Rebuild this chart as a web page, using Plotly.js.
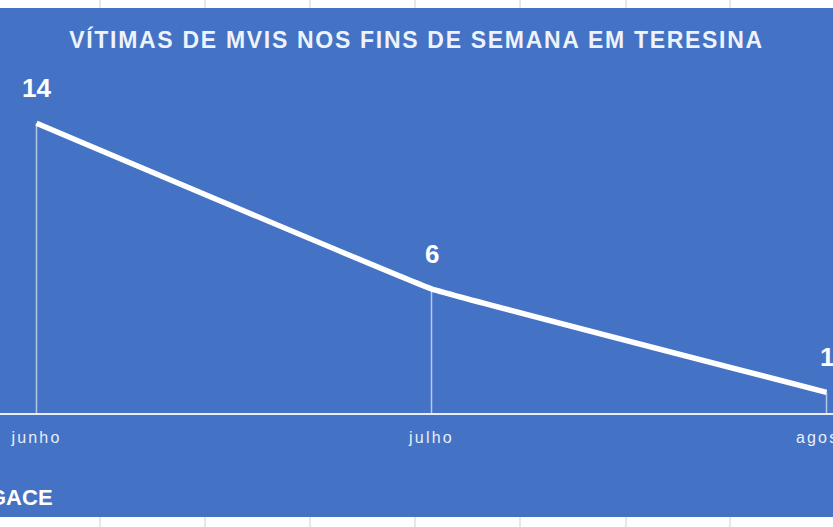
<!DOCTYPE html>
<html>
<head>
<meta charset="utf-8">
<script src="https://cdn.plot.ly/plotly-3.0.1.min.js"></script>
<style>
  html, body { margin: 0; padding: 0; background: #ffffff; }
  #chart { width: 833px; height: 527px; }
  .xtick text { letter-spacing: 2.2px; }
  .gtitle { letter-spacing: 1.7px; }
</style>
</head>
<body>
<div id="chart"></div>
<script>
// ---- data ----
const months = ['junho', 'julho', 'agosto'];
const victims = [14, 6, 1];
const chartTitle = 'VÍTIMAS DE MVIS NOS FINS DE SEMANA EM TERESINA';
const sourceLabel = 'GACE';

// ---- style ----
const BLUE = '#4472c4';
const W = 833, H = 527;
const T = 80, B = 413;               // plot area top / bottom in pixels
const PH = B - T;
const py = p => (B - p) / PH;         // pixel row -> paper y
const px = p => p / W;                // pixel col -> paper x
const blueTop = 8, blueBottom = 517;
const gridCols = [100, 205, 310, 415, 520, 626, 730];

const trace = {
  type: 'scatter',
  mode: 'lines',
  x: months,
  y: victims,
  line: { color: '#ffffff', width: 5.5, shape: 'spline', smoothing: 0.15 },
  error_y: {
    type: 'data',
    symmetric: false,
    array: victims.map(() => 0),
    arrayminus: victims,
    color: 'rgba(230,238,250,0.7)',
    thickness: 1.5,
    width: 0
  },
  hoverinfo: 'skip',
  cliponaxis: false
};

const shapes = [
  { type: 'rect', xref: 'paper', yref: 'paper', layer: 'below',
    x0: 0, x1: 1, y0: py(blueBottom), y1: py(blueTop),
    fillcolor: BLUE, line: { width: 0 } }
];
gridCols.forEach(c => {
  shapes.push({ type: 'line', xref: 'paper', yref: 'paper', layer: 'below',
    x0: px(c), x1: px(c), y0: py(blueTop), y1: py(0),
    line: { color: '#d0d0d0', width: 1 } });
  shapes.push({ type: 'line', xref: 'paper', yref: 'paper', layer: 'below',
    x0: px(c), x1: px(c), y0: py(H), y1: py(blueBottom),
    line: { color: '#d0d0d0', width: 1 } });
});

const annotations = months.map((m, i) => ({
  x: m, y: victims[i], xref: 'x', yref: 'y',
  text: String(victims[i]), showarrow: false,
  yshift: 35, yanchor: 'middle', xanchor: 'center',
  font: { family: 'Liberation Sans, Arial, sans-serif', size: 26, color: '#ffffff', weight: 'bold' }
}));
annotations.push({
  x: px(55), y: py(497), xref: 'paper', yref: 'paper',
  text: '<b>' + sourceLabel + '</b>', showarrow: false,
  xanchor: 'right', yanchor: 'middle',
  font: { family: 'Liberation Sans, Arial, sans-serif', size: 22, color: '#ffffff' }
});

const x0 = -36.5 / 395;
const layout = {
  width: W, height: H,
  margin: { l: 0, r: 0, t: T, b: H - B },
  paper_bgcolor: 'rgba(0,0,0,0)',
  plot_bgcolor: 'rgba(0,0,0,0)',
  showlegend: false,
  title: {
    text: '<b>' + chartTitle + '</b>',
    x: 0.5, xanchor: 'center',
    y: 1 - 40 / H, yref: 'container', yanchor: 'middle',
    font: { family: 'Liberation Sans, Arial, sans-serif', size: 23, color: '#eef3fb' }
  },
  xaxis: {
    type: 'category',
    range: [x0, x0 + W / 395],
    showgrid: false, zeroline: false,
    showline: true, linecolor: '#e9eef8', linewidth: 2,
    ticks: '', ticklabelstandoff: 9,
    tickfont: { family: 'Liberation Sans, Arial, sans-serif', size: 16, color: '#e9eef8' },
    fixedrange: true
  },
  yaxis: {
    range: [0, PH / 20.7],
    showgrid: false, zeroline: false, showline: false,
    showticklabels: false, ticks: '',
    fixedrange: true
  },
  shapes: shapes,
  annotations: annotations
};

Plotly.newPlot('chart', [trace], layout, { displayModeBar: false, staticPlot: true });
</script>
</body>
</html>
